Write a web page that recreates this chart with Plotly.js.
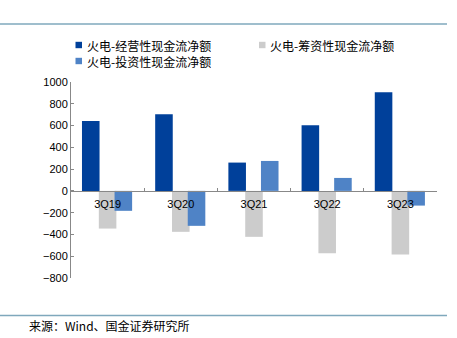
<!DOCTYPE html>
<html>
<head>
<meta charset="utf-8">
<script src="https://cdn.plot.ly/plotly-3.0.1.min.js"></script>
<style>html,body{margin:0;padding:0;background:#fff;}#chart{width:457px;height:338px;}</style>
</head>
<body>
<div id="chart"></div>
<script>
var categories = ["3Q19", "3Q20", "3Q21", "3Q22", "3Q23"];
var seriesNames = ["火电-经营性现金流净额", "火电-筹资性现金流净额", "火电-投资性现金流净额"];
var operating = [642, 703, 260, 603, 905];
var financing = [-346, -376, -422, -572, -584];
var investing = [-183, -321, 275, 119, -135];
var yTicks = [-800, -600, -400, -200, 0, 200, 400, 600, 800, 1000];
var sourceText = "来源：Wind、国金证券研究所";

var colors = ["#00409A", "#CCCCCC", "#4F83C6"];
var W = 457, H = 338, L = 71, R = 20, T = 82, B = 60;
var pw = W - L - R, ph = H - T - B;
function px(x) { return (x - L) / pw; }
function py(y) { return (H - B - y) / ph; }

var traces = [
  {type: "bar", name: seriesNames[0], x: categories, y: operating, marker: {color: colors[0]}, width: 0.24, offset: -0.35},
  {type: "bar", name: seriesNames[1], x: categories, y: financing, marker: {color: colors[1]}, width: 0.24, offset: -0.12},
  {type: "bar", name: seriesNames[2], x: categories, y: investing, marker: {color: colors[2]}, width: 0.24, offset: 0.095}
];

var cjk = "'Noto Sans CJK SC', 'Noto Sans', sans-serif";
var shapes = [
  {type: "line", xref: "paper", yref: "paper", x0: px(0), x1: px(447), y0: py(24), y1: py(24), line: {color: "#7FA8BC", width: 1.5}},
  {type: "line", xref: "paper", yref: "paper", x0: px(0), x1: px(447), y0: py(315.5), y1: py(315.5), line: {color: "#7FA8BC", width: 1.5}}
];
var legendPos = [[75.5, 45], [259, 45], [75.5, 61]];
var annotations = [];
legendPos.forEach(function (p, i) {
  shapes.push({type: "rect", xref: "paper", yref: "paper", x0: px(p[0]), x1: px(p[0] + 6.5), y0: py(p[1] - 3.2), y1: py(p[1] + 3.2), fillcolor: colors[i], line: {width: 0}});
  annotations.push({xref: "paper", yref: "paper", x: px(p[0] + 10), y: py(p[1]), xanchor: "left", yanchor: "middle", showarrow: false, height: 14, valign: "middle", borderpad: 0, text: seriesNames[i], font: {family: cjk, size: 12, color: "#000"}});
});
annotations.push({xref: "paper", yref: "paper", x: px(27), y: py(325), xanchor: "left", yanchor: "middle", showarrow: false, text: sourceText, font: {family: cjk, size: 12, color: "#000"}});

var layout = {
  width: W, height: H,
  margin: {l: L, r: R, t: T, b: B, pad: 0},
  paper_bgcolor: "#fff", plot_bgcolor: "#fff",
  showlegend: false,
  barmode: "group",
  font: {family: "Arial, 'Liberation Sans', sans-serif", size: 11, color: "#000"},
  xaxis: {
    type: "category", categoryorder: "array", categoryarray: categories,
    anchor: "free", position: 800 / 1800,
    showline: true, linecolor: "#888", linewidth: 1,
    ticks: "inside", tickson: "boundaries", ticklen: 3, tickcolor: "#888",
    ticklabelstandoff: 3,
    showgrid: false, zeroline: false,
    tickfont: {family: "Arial, 'Liberation Sans', sans-serif", size: 11, color: "#000"}
  },
  yaxis: {
    range: [-800, 1000], tickvals: yTicks,
    showline: true, linecolor: "#888", linewidth: 1,
    ticks: "inside", ticklen: 3, tickcolor: "#888",
    showgrid: false, zeroline: false,
    tickfont: {family: "Arial, 'Liberation Sans', sans-serif", size: 11, color: "#000"}
  },
  shapes: shapes,
  annotations: annotations
};

Plotly.newPlot("chart", traces, layout, {displayModeBar: false, staticPlot: true});
</script>
</body>
</html>
